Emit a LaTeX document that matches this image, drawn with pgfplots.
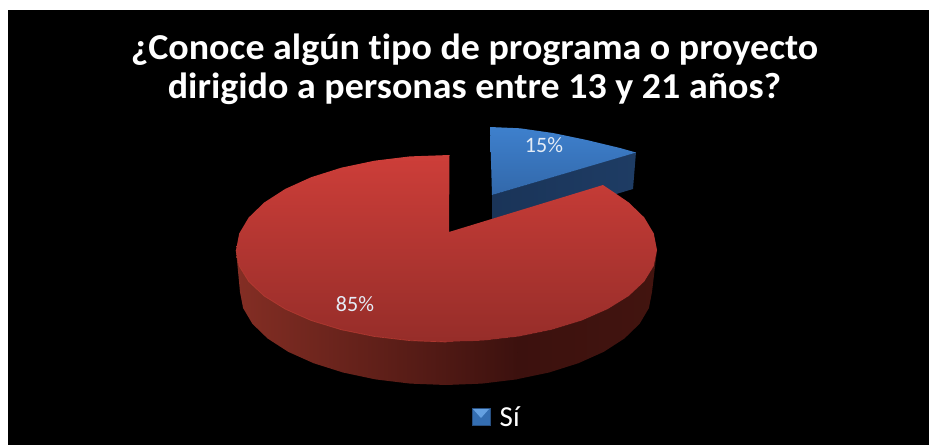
\documentclass[border=0pt]{standalone}
\usepackage{pgfplots}
\pgfplotsset{compat=1.18}
\usepackage{fontspec}
\setmainfont[Ligatures=NoCommon]{Carlito}
\definecolor{rtop}{RGB}{205,62,57}
\definecolor{rbot}{RGB}{150,45,41}
\definecolor{rrim}{RGB}{190,62,52}
\definecolor{sa}{RGB}{132,46,36}
\definecolor{sb}{RGB}{60,17,14}
\definecolor{sc}{RGB}{66,20,15}
\definecolor{btop}{RGB}{62,128,205}
\definecolor{bbot}{RGB}{50,104,170}
\definecolor{bsa}{RGB}{26,52,88}
\definecolor{bsb}{RGB}{30,60,100}
\definecolor{lab}{RGB}{228,236,246}
\begin{document}
\begin{tikzpicture}
\begin{axis}[
  scale only axis, width=929pt, height=445pt,
  xmin=0, xmax=929, ymin=0, ymax=445, y dir=reverse,
  hide axis, clip=true]
% page
\addplot[fill=white, draw=none] coordinates {(0,0) (929,0) (929,445) (0,445)} -- cycle;
\addplot[fill=black, draw=none] coordinates {(8,10) (929,10) (929,445) (8,445)} -- cycle;
% blue side
\addplot[draw=none, left color=bsa, right color=bsb] coordinates {(492,195) (636,152) (633,189) (492,231)} -- cycle;
% blue top
\addplot[draw=none, top color=btop, bottom color=bbot] coordinates {(490,127) (520,128.3) (553,133) (586.7,140) (620,148) (636,152.5) (492,195)} -- cycle;
% red side, left part
\addplot[draw=none, left color=sa, right color=sb] coordinates {
(236,250) (239.2,266) (248.7,281.5) (264.2,296) (285.3,309.1) (311.2,320.5) (341.25,329.7) (374.5,336.5) (409.9,340.6) (446.5,342) (483.1,340.6) (518.5,336.5)
(516.5,379.4) (481.8,383.6) (446,385) (410.2,383.6) (375.5,379.4) (343,372.5) (313.6,363.2) (288.2,351.8) (267.6,338.5) (252.4,323.8) (243.1,308.1) (240,292)} -- cycle;
% red side, right part
\addplot[draw=none, left color=sb, right color=sc] coordinates {
(518,336.5) (551.75,329.7) (581.8,320.5) (607.7,309.1) (628.8,296) (644.3,281.5) (653.8,266) (657,250)
(652,292) (648.9,308.1) (639.6,323.8) (624.4,338.5) (603.8,351.8) (578.4,363.2) (549,372.5) (516,379.4)} -- cycle;
% red top
\addplot[draw=none, top color=rtop, bottom color=rbot] coordinates {
(449,232) (449.5,155) (409.9,156.4) (374.5,160.7) (341.25,167.7) (311.2,177.2) (285.3,188.9) (264.2,202.5) (248.7,217.5) (239.2,233.5) (236,250)
(239.2,266) (248.7,281.5) (264.2,296) (285.3,309.1) (311.2,320.5) (341.25,329.7) (374.5,336.5) (409.9,340.6) (446.5,342) (483.1,340.6) (518.5,336.5) (551.75,329.7) (581.8,320.5) (607.7,309.1) (628.8,296) (644.3,281.5) (653.8,266) (657,250)
(653.8,233.5) (644.3,217.5) (628.8,202.5) (612,191) (603,185)} -- cycle;
% rim highlight
\addplot[rrim, line width=0.7pt, opacity=.8] coordinates {(236,250) (239.2,266) (248.7,281.5) (264.2,296) (285.3,309.1) (311.2,320.5) (341.25,329.7) (374.5,336.5) (409.9,340.6) (446.5,342)};
% legend key
\addplot[fill={rgb,255:red,52;green,110;blue,178}, draw={rgb,255:red,40;green,80;blue,130}, line width=0.5pt] coordinates {(472,408.5) (490,408.5) (490,425) (472,425)} -- cycle;
\addplot[fill={rgb,255:red,100;green,160;blue,225}, draw=none] coordinates {(473,409) (489,409) (481,418)} -- cycle;
% texts
\node[white, font=\fontsize{36.5}{38.5}\selectfont\bfseries, align=center, anchor=center, xscale=1.04, transform shape] at (axis cs:474.5,69.5) {¿Conoce algún tipo de programa o proyecto\\dirigido a personas entre 13 y 21 años?};
\node[lab, font=\fontsize{22}{24}\selectfont] at (axis cs:544,145) {15\%};
\node[lab, font=\fontsize{22}{24}\selectfont] at (axis cs:355,304) {85\%};
\node[white, font=\fontsize{29}{30}\selectfont, anchor=base west, inner sep=0pt] at (axis cs:499.5,426) {Sí};
\end{axis}
\end{tikzpicture}
\end{document}
